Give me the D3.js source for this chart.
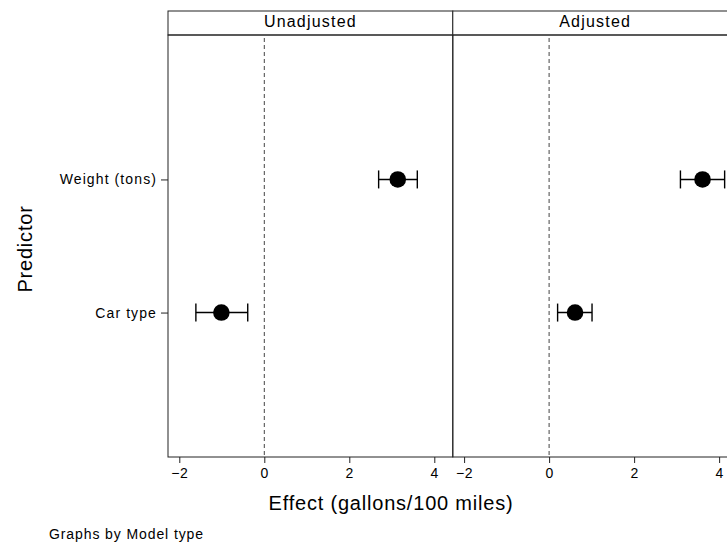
<!DOCTYPE html>
<html>
<head>
<meta charset="utf-8">
<script src="https://cdn.jsdelivr.net/npm/d3@7"></script>
<style>
  body { margin: 0; background: #fff; }
  text { font-family: "Liberation Sans", Arial, Helvetica, sans-serif; }
</style>
</head>
<body>
<svg id="chart"></svg>
<script>
// data
var panels = ["Unadjusted", "Adjusted"]
var predictors = ["Weight (tons)", "Car type"]
var estimates = {Unadjusted: [3.14, -1.01], Adjusted: [3.61, 0.61]}
var lower = {Unadjusted: [2.69, -1.61], Adjusted: [3.09, 0.20]}
var upper = {Unadjusted: [3.60, -0.39], Adjusted: [4.13, 1.01]}
var xTicks = [-2, 0, 2, 4]

var width = 727
var height = 542
var margin = ({top: 11, left: 168, bottom: 457})
var stripH = 24
var panelW = 284.8

var svg = d3.select("#chart")
  .attr("width", width)
  .attr("height", height)

var y = d3.scalePoint()
  .domain(predictors)
  .range([margin.top + stripH, margin.bottom])
  .padding(1.085)

panels.forEach((p, k) => {
  var x0 = margin.left + k * panelW
  var x = d3.scaleLinear()
    .domain([-2.266, 4.435])
    .range([x0, x0 + panelW])

  var g = svg.append("g")

  // strip
  g.append("rect")
    .attr("x", x0).attr("y", margin.top)
    .attr("width", panelW).attr("height", stripH)
    .attr("fill", "#fff").attr("stroke", "#222").attr("stroke-width", 1)
  g.append("text")
    .attr("x", x0 + panelW / 2).attr("y", margin.top + 16)
    .attr("text-anchor", "middle")
    .attr("font-size", 16)
    .attr("letter-spacing", 1.2)
    .text(p)

  // plot frame
  g.append("rect")
    .attr("x", x0).attr("y", margin.top + stripH)
    .attr("width", panelW).attr("height", margin.bottom - margin.top - stripH)
    .attr("fill", "none").attr("stroke", "#222").attr("stroke-width", 1)

  // reference line at zero
  g.append("line")
    .attr("x1", x(0)).attr("x2", x(0))
    .attr("y1", margin.top + stripH + 3).attr("y2", margin.bottom)
    .attr("stroke", "#444").attr("stroke-dasharray", "4,3")

  // x axis
  g.append("g")
    .attr("transform", `translate(0,${margin.bottom})`)
    .call(d3.axisBottom(x).tickValues(xTicks).tickSize(6).tickSizeOuter(0).tickFormat(d3.format("d")))
    .call(g => g.select(".domain").remove())
    .call(g => g.selectAll("text").attr("font-size", 14).attr("letter-spacing", 0.6).attr("fill", "#000").attr("dy", "0.85em"))
    .call(g => g.selectAll("line").attr("stroke", "#222"))

  // error bars
  var rows = predictors.map((d, i) => ({name: d, est: estimates[p][i], lo: lower[p][i], hi: upper[p][i]}))
  var bars = g.append("g").attr("stroke", "#000").attr("stroke-width", 1.4)
  bars.selectAll(".ci").data(rows).join("line")
    .attr("x1", d => x(d.lo)).attr("x2", d => x(d.hi))
    .attr("y1", d => y(d.name)).attr("y2", d => y(d.name))
  bars.selectAll(".capl").data(rows).join("line")
    .attr("x1", d => x(d.lo)).attr("x2", d => x(d.lo))
    .attr("y1", d => y(d.name) - 9).attr("y2", d => y(d.name) + 9)
  bars.selectAll(".caph").data(rows).join("line")
    .attr("x1", d => x(d.hi)).attr("x2", d => x(d.hi))
    .attr("y1", d => y(d.name) - 9).attr("y2", d => y(d.name) + 9)

  g.selectAll("circle").data(rows).join("circle")
    .attr("cx", d => x(d.est))
    .attr("cy", d => y(d.name))
    .attr("r", 8.3)
    .attr("fill", "#000")
})

// y axis on the left panel
svg.append("g")
  .attr("transform", `translate(${margin.left},0)`)
  .call(d3.axisLeft(y).tickSize(7).tickPadding(4))
  .call(g => g.select(".domain").remove())
  .call(g => g.selectAll("text").attr("font-size", 14).attr("letter-spacing", 1.1).attr("fill", "#000"))
  .call(g => g.selectAll("line").attr("stroke", "#222"))

svg.append("text")
  .attr("x", 391).attr("y", 510)
  .attr("text-anchor", "middle")
  .attr("font-size", 20)
  .attr("letter-spacing", 0.8)
  .text("Effect (gallons/100 miles)")

svg.append("text")
  .attr("transform", "translate(32,249) rotate(-90)")
  .attr("text-anchor", "middle")
  .attr("font-size", 20)
  .attr("letter-spacing", 0.8)
  .text("Predictor")

svg.append("text")
  .attr("x", 49).attr("y", 539)
  .attr("font-size", 14)
  .attr("letter-spacing", 0.9)
  .text("Graphs by Model type")
</script>
</body>
</html>
